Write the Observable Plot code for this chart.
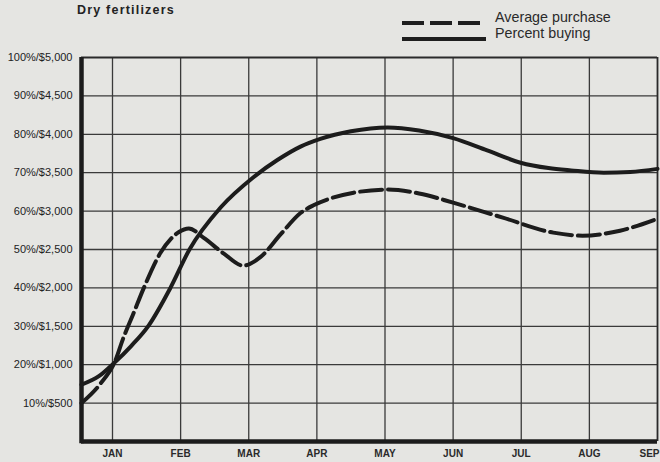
<!DOCTYPE html>
<html>
<head>
<meta charset="utf-8">
<script src="https://cdn.jsdelivr.net/npm/d3@7"></script>
<script src="https://cdn.jsdelivr.net/npm/@observablehq/plot@0.6"></script>
<style>
  html, body { margin: 0; padding: 0; background: #e5e5e2; }
  #wrap { position: relative; width: 660px; height: 462px; overflow: hidden; font-family: "Liberation Sans", Arial, Helvetica, sans-serif; color: #262626; }
  #title { position: absolute; left: 77px; top: 3px; font-size: 12.5px; font-weight: bold; letter-spacing: 1.2px; color: #222; }
  .leg { position: absolute; left: 400px; width: 250px; height: 16px; font-size: 14.3px; color: #2a2a2a; }
  .leg svg { position: absolute; left: 0; top: 0; }
  .leg span { position: absolute; left: 95px; top: -1px; white-space: nowrap; }
  #chart { position: absolute; left: 0; top: 0; }
</style>
</head>
<body>
<div id="wrap">
  <div id="chart"></div>
  <div id="title">Dry fertilizers</div>
  <div class="leg" style="top:10px"><svg width="90" height="16"><line x1="2" x2="86" y1="13" y2="13" stroke="#1e1e1e" stroke-width="4" stroke-dasharray="22,6"/></svg><span>Average purchase</span></div>
  <div class="leg" style="top:26px"><svg width="90" height="16"><line x1="2" x2="86" y1="13" y2="13" stroke="#1e1e1e" stroke-width="4"/></svg><span>Percent buying</span></div>
</div>
<script>
// Months (1 = JAN ... 9 = SEP)
const monthLabels = ["JAN", "FEB", "MAR", "APR", "MAY", "JUN", "JUL", "AUG", "SEP"];
const monthTicks = [1, 2, 3, 4, 5, 6, 7, 8, 9];

// Y axis ticks (percent) and their dual labels
const yTicks = [10, 20, 30, 40, 50, 60, 70, 80, 90, 100];
const yTickLabels = ["10%/$500", "20%/$1,000", "30%/$1,500", "40%/$2,000", "50%/$2,500",
  "60%/$3,000", "70%/$3,500", "80%/$4,000", "90%/$4,500", "100%/$5,000"];

// Percent buying (solid line)
const buyingMonth = [0.545, 0.8, 1.015, 1.27, 1.53, 1.85, 2.13, 2.59, 3.06, 3.42, 3.76, 4.05, 4.5, 5.04, 5.5, 6.0, 6.5, 6.99, 7.4, 7.73, 8.21, 8.6, 9.0];
const buyingPct   = [14.8, 17, 20.3, 24.8, 30.2, 40, 50, 61, 68.7, 73.3, 76.8, 78.8, 80.8, 81.8, 81, 79, 75.8, 72.6, 71.2, 70.6, 70, 70.2, 71];

// Average purchase in dollars (dashed line)
const purchaseMonth = [0.545, 0.82, 1.04, 1.16, 1.3, 1.46, 1.7, 1.97, 2.12, 2.34, 2.63, 2.92, 3.17, 3.47, 3.76, 3.95, 4.2, 4.54, 5.04, 5.5, 6.0, 6.73, 7.47, 7.9, 8.45, 9.0];
const purchaseDollars = [500, 750, 1050, 1350, 1650, 2000, 2450, 2725, 2775, 2650, 2450, 2290, 2400, 2700, 2975, 3075, 3165, 3240, 3280, 3230, 3110, 2915, 2720, 2680, 2745, 2900];

const buying = buyingMonth.map((m, i) => ({month: m, pct: buyingPct[i]}));
const purchase = purchaseMonth.map((m, i) => ({month: m, pct: purchaseDollars[i] / 50}));

const ink = "#1c1c1c";
const gridInk = "#3a3a3a";

const chart = Plot.plot({
  width: 660,
  height: 462,
  marginLeft: 81,
  marginRight: 3,
  marginTop: 57,
  marginBottom: 21,
  style: {background: "transparent", fontFamily: "'Liberation Sans', Arial, Helvetica, sans-serif", overflow: "visible"},
  x: {domain: [0.545, 9], axis: null},
  y: {domain: [0, 100], axis: null},
  marks: [
    Plot.ruleX(monthTicks.slice(0, 8), {stroke: gridInk, strokeWidth: 1.3}),
    Plot.ruleY(yTicks.slice(0, 9), {stroke: gridInk, strokeWidth: 1.3}),
    Plot.ruleY([100], {stroke: "#2a2a2a", strokeWidth: 1.8}),
    Plot.ruleX([9], {stroke: "#2a2a2a", strokeWidth: 1.8}),
    Plot.ruleX([0.545], {stroke: ink, strokeWidth: 4.5, y1: -0.6, y2: 100}),
    Plot.ruleY([0], {stroke: ink, strokeWidth: 4.5}),
    Plot.line(buying, {x: "month", y: "pct", curve: "monotone-x", stroke: ink, strokeWidth: 4}),
    Plot.line(purchase, {x: "month", y: "pct", curve: "monotone-x", stroke: ink, strokeWidth: 4, strokeDasharray: "22,6"}),
    Plot.text(yTicks, {x: 0.545, y: d => d, text: d => yTickLabels[yTicks.indexOf(d)], textAnchor: "end", dx: -9, fontSize: 11, fill: "#222"}),
    Plot.text(monthTicks.slice(0, 8), {x: d => d, y: 0, text: d => monthLabels[d - 1], dy: 12, fontSize: 10, fontWeight: "bold", fill: "#2a2a2a"}),
    Plot.text([9], {x: d => d, y: 0, text: d => monthLabels[d - 1], dy: 12, dx: 2, textAnchor: "end", fontSize: 10, fontWeight: "bold", fill: "#2a2a2a"})
  ]
});
document.getElementById("chart").appendChild(chart);
</script>
</body>
</html>
